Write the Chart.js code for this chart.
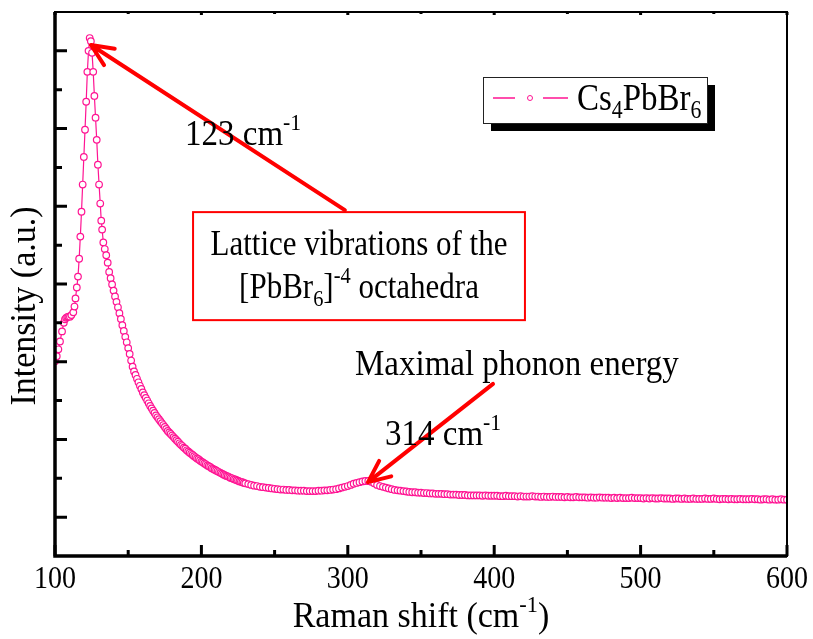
<!DOCTYPE html>
<html>
<head>
<meta charset="utf-8">
<script src="https://cdn.jsdelivr.net/npm/chart.js@4.4.0/dist/chart.umd.min.js"></script>
<style>
  html, body { margin: 0; padding: 0; background: #fff; }
</style>
</head>
<body>
<canvas id="ramanChart" width="813" height="639"></canvas>
<script>
// Raman spectrum of Cs4PbBr6 (a.u.)
const ramanShift = [
  100.0, 101.2, 102.3, 103.4, 104.8, 106.0, 106.8, 107.6, 108.4, 109.2, 110.2, 111.2, 112.5, 113.3,
  114.0, 114.9, 115.7, 116.5, 117.3, 118.1, 118.9, 119.7, 120.5, 121.3, 122.1, 122.9, 123.7,
  124.5, 125.3, 126.1, 126.9, 127.7, 128.5, 129.3, 130.1, 130.9, 131.6, 132.2, 133.0,
  134, 135, 136, 137, 138, 139, 140, 141, 142, 143, 144, 145, 146, 147, 148, 149,
  150, 151, 152, 153, 154, 155, 156, 157, 158, 159, 160, 161, 162, 163, 164, 165, 166, 167, 168, 169,
  170, 171, 172, 173, 174, 175, 176, 177, 178, 179, 180, 181, 182, 183, 184, 185, 186, 187, 188, 189,
  190, 191, 192, 193, 194, 195, 196, 197, 198, 199, 200, 201, 202, 203, 204, 205, 206, 207, 208, 209,
  210, 211, 212, 213, 214, 215, 216, 217, 218, 219, 220, 221, 222, 223, 224, 225, 226, 227, 228, 229, 230,
  232, 234, 236, 238, 240, 242, 244, 246, 248, 250, 252, 254, 256, 258, 260, 262, 264, 266, 268, 270,
  272, 274, 276, 278, 280, 282, 284, 286, 288, 290, 292, 294, 296, 298, 300, 302, 304, 306, 308, 310,
  312, 314, 316, 318, 320, 322, 324, 326, 328, 330, 332, 334, 336, 338, 340, 342, 344, 346, 348, 350,
  352, 354, 356, 358, 360, 362, 364, 366, 368, 370, 372, 374, 376, 378, 380, 382, 384, 386, 388, 390,
  392, 394, 396, 398, 400, 402, 404, 406, 408, 410, 412, 414, 416, 418, 420, 422, 424, 426, 428, 430,
  432, 434, 436, 438, 440, 442, 444, 446, 448, 450, 452, 454, 456, 458, 460, 462, 464, 466, 468, 470,
  472, 474, 476, 478, 480, 482, 484, 486, 488, 490, 492, 494, 496, 498, 500, 502, 504, 506, 508, 510,
  512, 514, 516, 518, 520, 522, 524, 526, 528, 530, 532, 534, 536, 538, 540, 542, 544, 546, 548, 550,
  552, 554, 556, 558, 560, 562, 564, 566, 568, 570, 572, 574, 576, 578, 580, 582, 584, 586, 588, 590,
  592, 594, 596, 598, 600
];
const intensity = [
  5.01, 5.14, 5.32, 5.52, 5.78, 6.00, 6.09, 6.13, 6.15, 6.16, 6.16, 6.20, 6.27, 6.42,
  6.63, 6.91, 7.19, 7.65, 8.22, 8.86, 9.56, 10.27, 10.97, 11.69, 12.46, 13.00, 13.33,
  13.25, 12.95, 12.46, 11.84, 11.28, 10.71, 10.07, 9.56, 9.07, 8.63, 8.40, 8.07,
  7.90, 7.74, 7.55, 7.31, 7.15, 6.99, 6.83, 6.68, 6.54, 6.40, 6.25, 6.10, 5.94, 5.79, 5.64, 5.50,
  5.35, 5.20, 5.03, 4.87, 4.75, 4.66, 4.56, 4.47, 4.38, 4.30, 4.21, 4.14, 4.07, 4.00, 3.93, 3.86, 3.80, 3.74, 3.68, 3.62,
  3.57, 3.52, 3.47, 3.42, 3.37, 3.32, 3.27, 3.22, 3.18, 3.14, 3.10, 3.06, 3.02, 2.98, 2.94, 2.90, 2.86, 2.83, 2.79, 2.76,
  2.72, 2.69, 2.66, 2.63, 2.60, 2.57, 2.54, 2.51, 2.49, 2.46, 2.43, 2.41, 2.38, 2.36, 2.33, 2.31, 2.29, 2.26, 2.24, 2.22,
  2.20, 2.18, 2.16, 2.14, 2.12, 2.10, 2.08, 2.06, 2.05, 2.03, 2.01, 2.00, 1.98, 1.97, 1.95, 1.94, 1.92, 1.91, 1.90, 1.88, 1.87,
  1.85, 1.83, 1.81, 1.80, 1.78, 1.77, 1.76, 1.75, 1.74, 1.73, 1.72, 1.71, 1.71, 1.70, 1.70, 1.69, 1.69, 1.68, 1.68, 1.68,
  1.67, 1.67, 1.67, 1.67, 1.68, 1.68, 1.69, 1.69, 1.70, 1.71, 1.72, 1.74, 1.76, 1.78, 1.80, 1.83, 1.86, 1.88, 1.90, 1.92,
  1.93, 1.93, 1.91, 1.87, 1.83, 1.80, 1.78, 1.76, 1.74, 1.72, 1.70, 1.69, 1.68, 1.67, 1.66, 1.65, 1.64, 1.64, 1.63, 1.63,
  1.62, 1.62, 1.61, 1.61, 1.60, 1.60, 1.60, 1.59, 1.59, 1.58, 1.58, 1.58, 1.57, 1.57, 1.57, 1.56, 1.56, 1.56, 1.56, 1.56,
  1.55, 1.56, 1.55, 1.55, 1.55, 1.55, 1.54, 1.54, 1.55, 1.54, 1.54, 1.54, 1.53, 1.54, 1.53, 1.53, 1.53, 1.54, 1.53, 1.53,
  1.52, 1.53, 1.52, 1.52, 1.53, 1.52, 1.52, 1.52, 1.51, 1.52, 1.51, 1.51, 1.52, 1.51, 1.51, 1.51, 1.50, 1.51, 1.50, 1.50,
  1.51, 1.50, 1.50, 1.50, 1.49, 1.50, 1.49, 1.50, 1.49, 1.49, 1.49, 1.50, 1.49, 1.49, 1.49, 1.48, 1.49, 1.48, 1.49, 1.48,
  1.48, 1.49, 1.48, 1.48, 1.48, 1.47, 1.48, 1.48, 1.47, 1.48, 1.47, 1.47, 1.48, 1.47, 1.47, 1.47, 1.48, 1.47, 1.47, 1.48,
  1.47, 1.46, 1.47, 1.47, 1.46, 1.47, 1.46, 1.46, 1.47, 1.46, 1.46, 1.46, 1.47, 1.46, 1.46, 1.45, 1.46, 1.46, 1.45, 1.46,
  1.45, 1.45, 1.46, 1.45, 1.45
];

const xMajorTicks = [100, 200, 300, 400, 500, 600];
const xMinorTicks = [150, 250, 350, 450, 550];
const yMajorTicks = [1, 3, 5, 7, 9, 11, 13];
const yMinorTicks = [2, 4, 6, 8, 10, 12];

const seriesName = [["Cs", "n"], ["4", "sub"], ["PbBr", "n"], ["6", "sub"]];
const pink = "#ff1493";
const red = "#ff0000";
const serif = "'Liberation Serif', 'Times New Roman', serif";

// draws text made of normal / sup / sub pieces (sy = vertical stretch)
function richText(ctx, parts, x, y, size, align, sy) {
  const small = size * 0.66;
  let w = 0;
  parts.forEach(([t, k]) => {
    ctx.font = (k === "n" ? size : small) + "px " + serif;
    w += ctx.measureText(t).width;
  });
  ctx.save();
  ctx.translate(align === "center" ? x - w / 2 : x, y);
  ctx.scale(1, sy || 1);
  ctx.textBaseline = "alphabetic";
  ctx.textAlign = "left";
  let cx = 0;
  parts.forEach(([t, k]) => {
    ctx.font = (k === "n" ? size : small) + "px " + serif;
    let dy = 0;
    if (k === "sup") dy = -size * 0.42;
    if (k === "sub") dy = size * 0.22;
    ctx.fillText(t, cx, dy);
    cx += ctx.measureText(t).width;
  });
  ctx.restore();
  return w;
}

function arrow(ctx, x1, y1, x2, y2) {
  const a = Math.atan2(y2 - y1, x2 - x1);
  const hl = 24, ha = 0.42;
  ctx.save();
  ctx.strokeStyle = red;
  ctx.lineWidth = 4;
  ctx.lineCap = "round";
  ctx.lineJoin = "round";
  ctx.beginPath();
  ctx.moveTo(x1, y1);
  ctx.lineTo(x2, y2);
  ctx.moveTo(x2 - hl * Math.cos(a - ha), y2 - hl * Math.sin(a - ha));
  ctx.lineTo(x2, y2);
  ctx.lineTo(x2 - hl * Math.cos(a + ha), y2 - hl * Math.sin(a + ha));
  ctx.stroke();
  ctx.restore();
}

const decorations = {
  id: "decorations",
  afterDraw(chart) {
    const ctx = chart.ctx;
    const xs = chart.scales.x, ys = chart.scales.y;
    const { left, right, top, bottom } = chart.chartArea;
    const px = v => xs.getPixelForValue(v);
    const py = v => ys.getPixelForValue(v);
    ctx.save();

    // frame
    ctx.strokeStyle = "#000";
    ctx.lineWidth = 2;
    ctx.strokeRect(left, top, right - left, bottom - top);
    ctx.lineWidth = 3.5;
    ctx.beginPath();
    ctx.moveTo(left, top); ctx.lineTo(left, bottom); ctx.lineTo(right, bottom);
    ctx.stroke();

    // inward ticks
    ctx.lineWidth = 3;
    ctx.beginPath();
    xMajorTicks.forEach(v => { ctx.moveTo(px(v), bottom); ctx.lineTo(px(v), bottom - 11); ctx.moveTo(px(v), top); ctx.lineTo(px(v), top + 3); });
    xMinorTicks.forEach(v => { ctx.moveTo(px(v), bottom); ctx.lineTo(px(v), bottom - 6); ctx.moveTo(px(v), top); ctx.lineTo(px(v), top + 2); });
    yMajorTicks.forEach(v => { ctx.moveTo(left, py(v)); ctx.lineTo(left + 12, py(v)); });
    yMinorTicks.forEach(v => { ctx.moveTo(left, py(v)); ctx.lineTo(left + 7, py(v)); });
    ctx.stroke();

    ctx.fillStyle = "#000";
    // tick labels
    xMajorTicks.forEach(v => richText(ctx, [[String(v), "n"]], px(v), 588, 28, "center", 1.12));

    // axis titles
    richText(ctx, [["Raman shift (cm", "n"], ["-1", "sup"], [")", "n"]], (left + right) / 2, 627, 34, "center", 1.03);
    ctx.save();
    ctx.translate(35, 306);
    ctx.rotate(-Math.PI / 2);
    richText(ctx, [["Intensity (a.u.)", "n"]], 0, 0, 34, "center", 1.03);
    ctx.restore();

    // annotation: peak
    arrow(ctx, px(298), py(8.9), px(124.6), py(13.15));
    richText(ctx, [["123 cm", "n"], ["-1", "sup"]], px(188.8), py(10.58), 33, "left", 1.06);

    const bx1 = px(194.3), bx2 = px(421), by1 = py(8.85), by2 = py(6.07);
    ctx.fillStyle = "#fff";
    ctx.fillRect(bx1, by1, bx2 - bx1, by2 - by1);
    ctx.strokeStyle = red;
    ctx.lineWidth = 2;
    ctx.strokeRect(bx1, by1, bx2 - bx1, by2 - by1);
    ctx.fillStyle = "#000";
    const bc = (bx1 + bx2) / 2;
    richText(ctx, [["Lattice vibrations of the", "n"]], bc, by1 + 43, 31, "center", 1.15);
    richText(ctx, [["[PbBr", "n"], ["6", "sub"], ["]", "n"], ["-4", "sup"], [" octahedra", "n"]], bc, by1 + 86, 31, "center", 1.15);

    // annotation: phonon
    arrow(ctx, px(399.2), py(4.43), px(313.8), py(1.9));
    ctx.fillStyle = "#000";
    richText(ctx, [["Maximal phonon energy", "n"]], px(304.9), py(4.66), 33, "left", 1.06);
    richText(ctx, [["314 cm", "n"], ["-1", "sup"]], px(325.4), py(2.86), 33, "left", 1.06);

    // legend box with shadow
    const lx = 483, ly = 77, lw = 224, lh = 46;
    ctx.fillStyle = "#000";
    ctx.fillRect(lx + 8, ly + 8, lw, lh);
    ctx.fillStyle = "#fff";
    ctx.fillRect(lx, ly, lw, lh);
    ctx.strokeStyle = "#222";
    ctx.lineWidth = 1;
    ctx.strokeRect(lx + 0.5, ly + 0.5, lw, lh);
    const my = ly + 21;
    ctx.strokeStyle = pink;
    ctx.lineWidth = 1.5;
    ctx.beginPath();
    ctx.moveTo(lx + 10, my); ctx.lineTo(lx + 32, my);
    ctx.moveTo(lx + 60, my); ctx.lineTo(lx + 85, my);
    ctx.stroke();
    ctx.lineWidth = 1;
    ctx.beginPath();
    ctx.arc(lx + 47, my, 2.5, 0, Math.PI * 2);
    ctx.fillStyle = "#fff";
    ctx.fill();
    ctx.stroke();
    ctx.fillStyle = "#000";
    richText(ctx, seriesName, lx + 94, ly + 33, 33, "left", 1.15);

    ctx.restore();
  }
};

new Chart(document.getElementById("ramanChart"), {
  type: "line",
  data: {
    datasets: [{
      label: "Cs4PbBr6",
      data: ramanShift.map((x, i) => ({ x: x, y: intensity[i] })),
      borderColor: pink,
      borderWidth: 1.2,
      pointRadius: 3.3,
      pointBorderWidth: 1.2,
      pointBorderColor: pink,
      pointBackgroundColor: "#fff",
      tension: 0
    }]
  },
  options: {
    responsive: false,
    animation: false,
    events: [],
    layout: { padding: { top: 12, right: 26, left: 0, bottom: 0 } },
    plugins: { legend: { display: false }, tooltip: { enabled: false } },
    scales: {
      x: {
        type: "linear",
        min: 100,
        max: 600,
        afterFit: s => { s.height = 83; },
        ticks: { display: false },
        grid: { display: false, drawTicks: false },
        border: { display: false }
      },
      y: {
        min: 0,
        max: 14,
        afterFit: s => { s.width = 55; },
        ticks: { display: false },
        grid: { display: false, drawTicks: false },
        border: { display: false }
      }
    }
  },
  plugins: [decorations]
});
</script>
</body>
</html>
